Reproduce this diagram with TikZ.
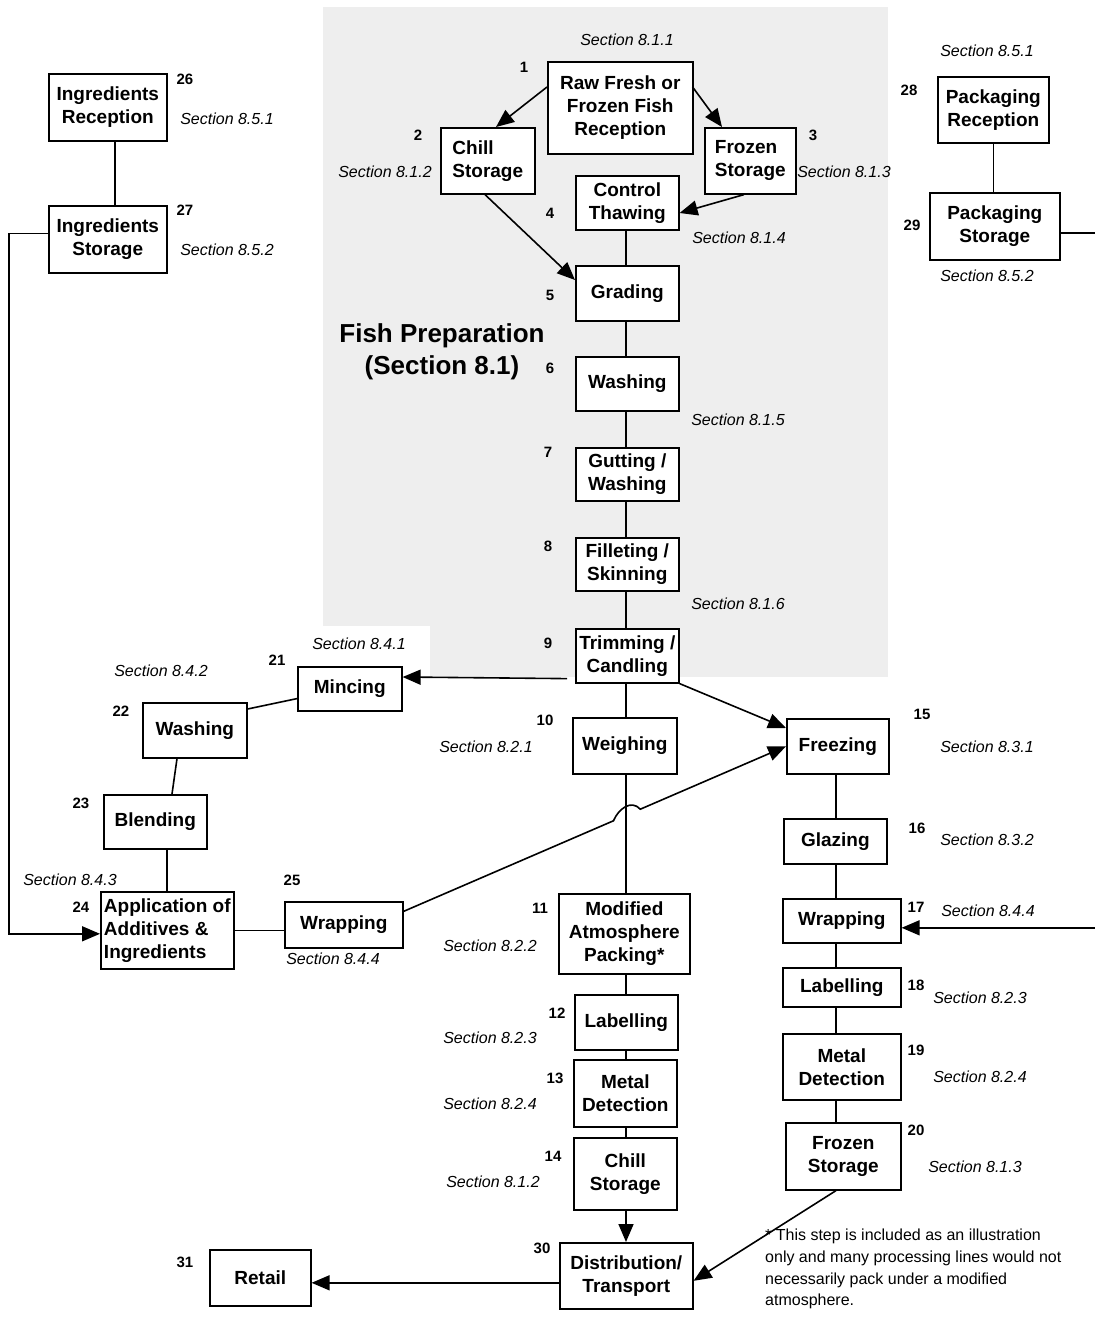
\documentclass[tikz,border=0pt]{standalone}
\usepackage{fontspec}
\setmainfont{Liberation Sans}
\usetikzlibrary{arrows.meta,calc}
\definecolor{prepgray}{RGB}{238,238,238}
\begin{document}
\begin{tikzpicture}[x=1pt,y=-1pt,
  stepbox/.style={draw, line width=1.6pt, fill=white, anchor=north west, inner sep=0pt,
    align=center, font=\bfseries\fontsize{19}{23}\selectfont},
  num/.style={font=\bfseries\fontsize{15}{18}\selectfont, inner sep=0pt},
  sec/.style={font=\itshape\fontsize{16}{19}\selectfont, inner sep=0pt},
  link/.style={line width=1.6pt},
  flow/.style={line width=1.6pt, -{Triangle[length=18pt,width=15pt]}},
]
\useasboundingbox (0,0) rectangle (1095,1336);

% shaded fish preparation area
\fill[prepgray] (323,7) rectangle (888,677);
\fill[white] (323,626) rectangle (430,678);
\node[font=\bfseries\fontsize{26}{32}\selectfont, align=center] (fishprep) at (442,352) {Fish Preparation\\(Section 8.1)};

% process steps
\node[stepbox, minimum width=145pt, minimum height=92pt] (b1) at (547,61) {Raw Fresh or\\Frozen Fish\\Reception};
\node[stepbox, align=left, minimum width=94pt, minimum height=66pt] (b2) at (440,127) {Chill\\Storage};
\node[stepbox, align=left, minimum width=91pt, minimum height=66pt] (b3) at (704,127) {Frozen\\Storage};
\node[stepbox, minimum width=103pt, minimum height=54pt] (b4) at (575,175) {Control\\Thawing};
\node[stepbox, minimum width=103pt, minimum height=55pt] (b5) at (575,265) {Grading};
\node[stepbox, minimum width=103pt, minimum height=54pt] (b6) at (575,356) {Washing};
\node[stepbox, minimum width=103pt, minimum height=53pt] (b7) at (575,447) {Gutting /\\Washing};
\node[stepbox, minimum width=103pt, minimum height=53pt] (b8) at (575,537) {Filleting /\\Skinning};
\node[stepbox, minimum width=103pt, minimum height=54pt] (b9) at (575,628) {Trimming /\\Candling};
\node[stepbox, minimum width=104pt, minimum height=56pt] (b10) at (572,717) {Weighing};
\node[stepbox, minimum width=131pt, minimum height=80pt] (b11) at (558,893) {Modified\\Atmosphere\\Packing*};
\node[stepbox, minimum width=103pt, minimum height=55pt] (b12) at (574,994) {Labelling};
\node[stepbox, minimum width=103pt, minimum height=67pt] (b13) at (573,1059) {Metal\\Detection};
\node[stepbox, minimum width=103pt, minimum height=72pt] (b14) at (573,1137) {Chill\\Storage};
\node[stepbox, minimum width=133pt, minimum height=66pt] (b30) at (559,1242) {Distribution/\\Transport};
\node[stepbox, minimum width=101pt, minimum height=56pt] (b31) at (209,1249) {Retail};
\node[stepbox, minimum width=102pt, minimum height=55pt] (b15) at (786,718) {Freezing};
\node[stepbox, minimum width=103pt, minimum height=45pt] (b16) at (783,818) {Glazing};
\node[stepbox, minimum width=118pt, minimum height=44pt] (b17) at (782,898) {Wrapping};
\node[stepbox, minimum width=118pt, minimum height=39pt] (b18) at (782,967) {Labelling};
\node[stepbox, minimum width=118pt, minimum height=66pt] (b19) at (782,1033) {Metal\\Detection};
\node[stepbox, minimum width=115pt, minimum height=67pt] (b20) at (785,1122) {Frozen\\Storage};
\node[stepbox, minimum width=104pt, minimum height=44pt] (b21) at (297,666) {Mincing};
\node[stepbox, minimum width=104pt, minimum height=55pt] (b22) at (142,702) {Washing};
\node[stepbox, minimum width=103pt, minimum height=54pt] (b23) at (103,794) {Blending};
\node[stepbox, align=left, minimum width=133pt, minimum height=77pt] (b24) at (100,891) {Application of\\Additives \&\\Ingredients};
\node[stepbox, minimum width=118pt, minimum height=46pt] (b25) at (284,901) {Wrapping};
\node[stepbox, minimum width=118pt, minimum height=67pt] (b26) at (48,73) {Ingredients\\Reception};
\node[stepbox, minimum width=118pt, minimum height=67pt] (b27) at (48,205) {Ingredients\\Storage};
\node[stepbox, minimum width=111pt, minimum height=66pt] (b28) at (937,76) {Packaging\\Reception};
\node[stepbox, minimum width=130pt, minimum height=67pt] (b29) at (929,192) {Packaging\\Storage};

% helper columns and edges
\coordinate (mx) at (626,0);
\coordinate (rx) at (836,0);
\coordinate (lx) at (9,0);
\coordinate (edgeR) at (1095,0);

% reception and thawing
\draw[flow] ($(b1.north west)+(0,26)$) -- ($(b2.north west)+(56,0)$);
\draw[flow] ($(b1.north east)+(-1,26)$) -- ($(b3.north west)+(18,0)$);
\draw[flow] ($(b3.south west)+(40,0)$) -- ($(b4.north east)+(0,38)$);
\draw[flow] ($(b2.south west)+(45,0)$) -- ($(b5.north west)+(0,15)$);

% main chilled line
\foreach \a/\b in {b4/b5,b5/b6,b6/b7,b7/b8,b8/b9,b9/b10,b10/b11,b11/b12,b12/b13,b13/b14}
  \draw[link] (mx |- \a.south) -- (mx |- \b.north);
\draw[flow] (mx |- b14.south) -- (mx |- b30.north);

% frozen line
\foreach \a/\b in {b15/b16,b16/b17,b17/b18,b18/b19,b19/b20}
  \draw[link] (rx |- \a.south) -- (rx |- \b.north);
\draw[flow] (rx |- b20.south) -- ($(b30.east)+(0,5)$);
\draw[flow] ($(b30.west)+(0,7)$) -- ($(b31.east)+(0,5)$);

% branches from trimming
\draw[flow] ($(b9.south west)+(-8,-5)$) -- ($(b21.north east)+(0,11)$);
\draw[flow] (b9.south east) -- ($(b15.north west)+(0,10)$);

% mince line
\draw[link] ($(b21.south west)+(0,-13)$) -- ($(b22.north east)+(0,7)$);
\draw[link] ($(b22.south west)+(35,0)$) -- ($(b23.north west)+(69,0)$);
\draw[link] ($(b23.south west)+(64,0)$) -- ($(b24.north west)+(67,0)$);
\draw[link] (b24.east) -- (b24.east -| b25.west);

% wrapped mince to freezing, hopping over the main line
\coordinate (hA) at ($(b25.east)+(-1,-13)$);
\coordinate (hB) at (b15.west);
\coordinate (hP) at ($(hA)!0.55!(hB)$);
\coordinate (hQ) at ($(hA)!0.62!(hB)$);
\draw[flow] (hA) -- (hP) .. controls ($(hP)+(5,-12)$) and ($(hQ)+(-9,-10)$) .. (hQ) -- (hB);

% ingredients
\draw[link] ($(b26.south)+(7,0)$) -- ($(b27.north)+(7,0)$);
\coordinate (ingA) at ($(b27.west)+(0,-6)$);
\coordinate (ingB) at ($(b24.west)+(0,3.5)$);
\draw[flow] (ingA) -| (lx |- ingB) -- (ingB);

% packaging
\draw[link] (b28.south) -- (b28.south |- b29.north);
\coordinate (pkA) at ($(b29.east)+(0,6.5)$);
\draw[link] (pkA) -- (edgeR |- pkA);
\coordinate (pkB) at ($(b17.east)+(0,7)$);
\draw[flow] (edgeR |- pkB) -- (pkB);

% step numbers
\node[num] (n1) at (524,67) {1};
\node[num] (n2) at (418,135) {2};
\node[num] (n3) at (813,135) {3};
\node[num] (n4) at (550,213) {4};
\node[num] (n5) at (550,295) {5};
\node[num] (n6) at (550,368) {6};
\node[num] (n7) at (548,452) {7};
\node[num] (n8) at (548,546) {8};
\node[num] (n9) at (548,643) {9};
\node[num] (n10) at (545,720) {10};
\node[num] (n11) at (540,908) {11};
\node[num] (n12) at (557,1013) {12};
\node[num] (n13) at (555,1078) {13};
\node[num] (n14) at (553,1156) {14};
\node[num] (n15) at (922,714) {15};
\node[num] (n16) at (917,828) {16};
\node[num] (n17) at (916,907) {17};
\node[num] (n18) at (916,985) {18};
\node[num] (n19) at (916,1050) {19};
\node[num] (n20) at (916,1130) {20};
\node[num] (n21) at (277,660) {21};
\node[num] (n22) at (121,711) {22};
\node[num] (n23) at (81,803) {23};
\node[num] (n24) at (81,907) {24};
\node[num] (n25) at (292,880) {25};
\node[num] (n26) at (185,79) {26};
\node[num] (n27) at (185,210) {27};
\node[num] (n28) at (909,90) {28};
\node[num] (n29) at (912,225) {29};
\node[num] (n30) at (542,1248) {30};
\node[num] (n31) at (185,1262) {31};

% section references
\node[sec] (s1) at (627,40) {Section 8.1.1};
\node[sec] (s2) at (385,172) {Section 8.1.2};
\node[sec] (s3) at (844,172) {Section 8.1.3};
\node[sec] (s4) at (739,238) {Section 8.1.4};
\node[sec] (s5) at (738,420) {Section 8.1.5};
\node[sec] (s6) at (738,604) {Section 8.1.6};
\node[sec] (s10) at (486,747) {Section 8.2.1};
\node[sec] (s11) at (490,946) {Section 8.2.2};
\node[sec] (s12) at (490,1038) {Section 8.2.3};
\node[sec] (s13) at (490,1104) {Section 8.2.4};
\node[sec] (s14) at (493,1182) {Section 8.1.2};
\node[sec] (s15) at (987,747) {Section 8.3.1};
\node[sec] (s16) at (987,840) {Section 8.3.2};
\node[sec] (s17) at (988,911) {Section 8.4.4};
\node[sec] (s18) at (980,998) {Section 8.2.3};
\node[sec] (s19) at (980,1077) {Section 8.2.4};
\node[sec] (s20) at (975,1167) {Section 8.1.3};
\node[sec] (s21) at (359,644) {Section 8.4.1};
\node[sec] (s22) at (161,671) {Section 8.4.2};
\node[sec] (s24) at (70,880) {Section 8.4.3};
\node[sec] (s25) at (333,959) {Section 8.4.4};
\node[sec] (s26) at (227,119) {Section 8.5.1};
\node[sec] (s27) at (227,250) {Section 8.5.2};
\node[sec] (s28) at (987,51) {Section 8.5.1};
\node[sec] (s29) at (987,276) {Section 8.5.2};

% footnote
\node[anchor=north west, align=left, inner sep=0pt, font=\fontsize{16}{21.7}\selectfont] (note) at (765,1229)
  {* This step is included as an illustration\\only and many processing lines would not\\necessarily pack under a modified\\atmosphere.};
\end{tikzpicture}
\end{document}
